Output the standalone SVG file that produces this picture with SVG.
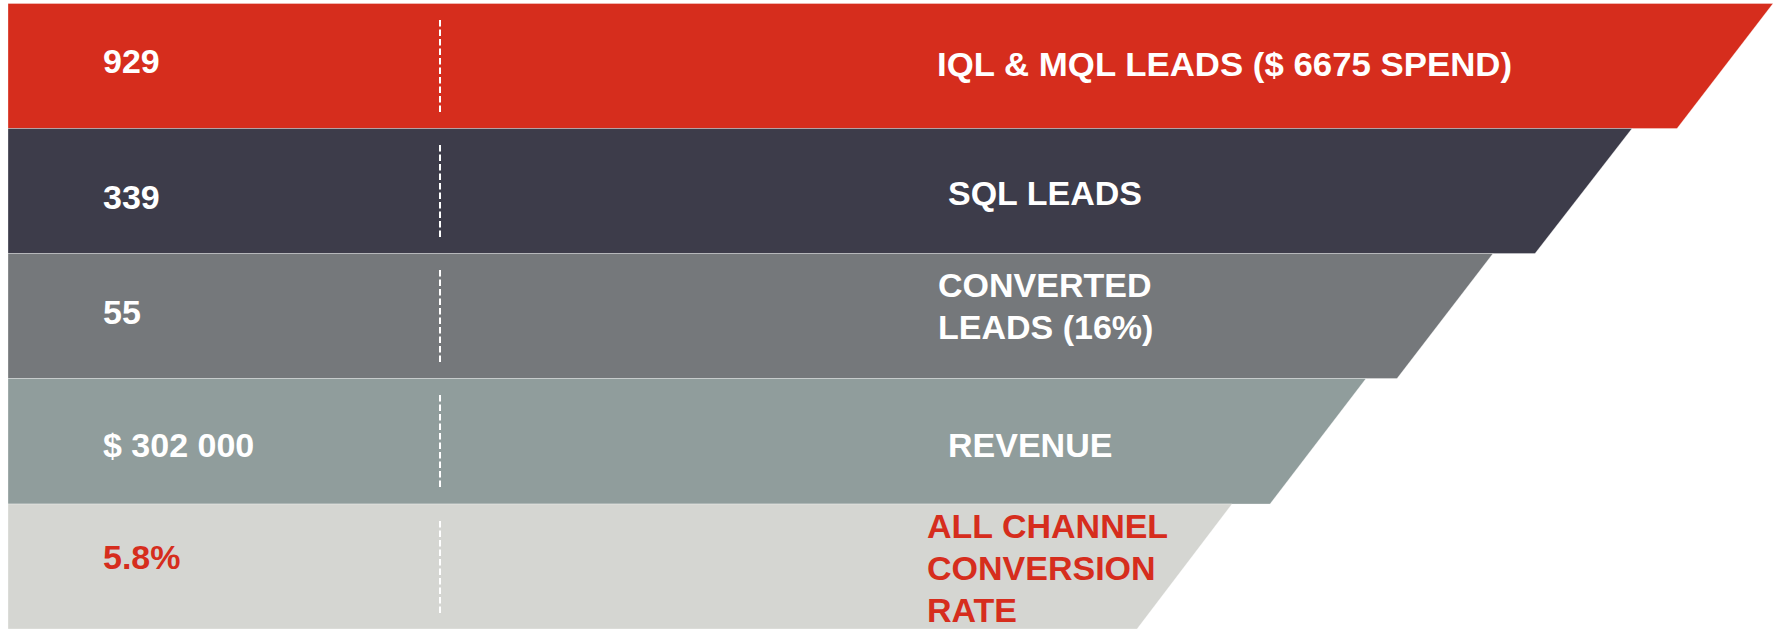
<svg xmlns="http://www.w3.org/2000/svg" width="1779" height="629" viewBox="0 0 1779 629">
  <style>
    .band { stroke: #ffffff; stroke-opacity: 0.3; stroke-width: 1; }
    .divider { stroke: #ffffff; stroke-width: 2; stroke-dasharray: 6.5 3; fill: none; }
    .label { font-family: "Liberation Sans", Arial, sans-serif; font-weight: bold; font-size: 34px; }
    .light { fill: #ffffff; }
    .accent { fill: #d62d1d; }
  </style>
  <rect width="1779" height="629" fill="#ffffff"/>

  <!-- Funnel stage 1 -->
  <g id="stage-leads">
    <polygon class="band" fill="#d62d1d" points="8,3.5 1773,3.5 1677,128.5 8,128.5"/>
    <line class="divider" x1="440" y1="20" x2="440" y2="114.5"/>
    <text class="label light" x="103" y="73">929</text>
    <text class="label light" x="937" y="76" font-size="36.5" textLength="575" lengthAdjust="spacingAndGlyphs">IQL &amp; MQL LEADS ($ 6675 SPEND)</text>
  </g>

  <!-- Funnel stage 2 -->
  <g id="stage-sql">
    <polygon class="band" fill="#3d3c4a" points="8,128.5 1632,128.5 1535,253.5 8,253.5"/>
    <line class="divider" x1="440" y1="145" x2="440" y2="239.5"/>
    <text class="label light" x="103" y="209">339</text>
    <text class="label light" x="948" y="205">SQL LEADS</text>
  </g>

  <!-- Funnel stage 3 -->
  <g id="stage-converted">
    <polygon class="band" fill="#75787b" points="8,253.5 1493,253.5 1397,378.5 8,378.5"/>
    <line class="divider" x1="440" y1="270" x2="440" y2="364.5"/>
    <text class="label light" x="103" y="324">55</text>
    <text class="label light" x="938" y="297">CONVERTED</text>
    <text class="label light" x="938" y="339">LEADS (16%)</text>
  </g>

  <!-- Funnel stage 4 -->
  <g id="stage-revenue">
    <polygon class="band" fill="#909d9c" points="8,378.5 1366,378.5 1270,504 8,504"/>
    <line class="divider" x1="440" y1="395" x2="440" y2="489.5"/>
    <text class="label light" x="103" y="457">$ 302 000</text>
    <text class="label light" x="948" y="457">REVENUE</text>
  </g>

  <!-- Funnel stage 5 -->
  <g id="stage-rate">
    <polygon class="band" fill="#d5d6d2" points="8,504 1232,504 1137,629 8,629"/>
    <line class="divider" x1="440" y1="521" x2="440" y2="615.5"/>
    <text class="label accent" x="103" y="569">5.8%</text>
    <text class="label accent" x="927" y="538">ALL CHANNEL</text>
    <text class="label accent" x="927" y="580">CONVERSION</text>
    <text class="label accent" x="927" y="622">RATE</text>
  </g>
</svg>
